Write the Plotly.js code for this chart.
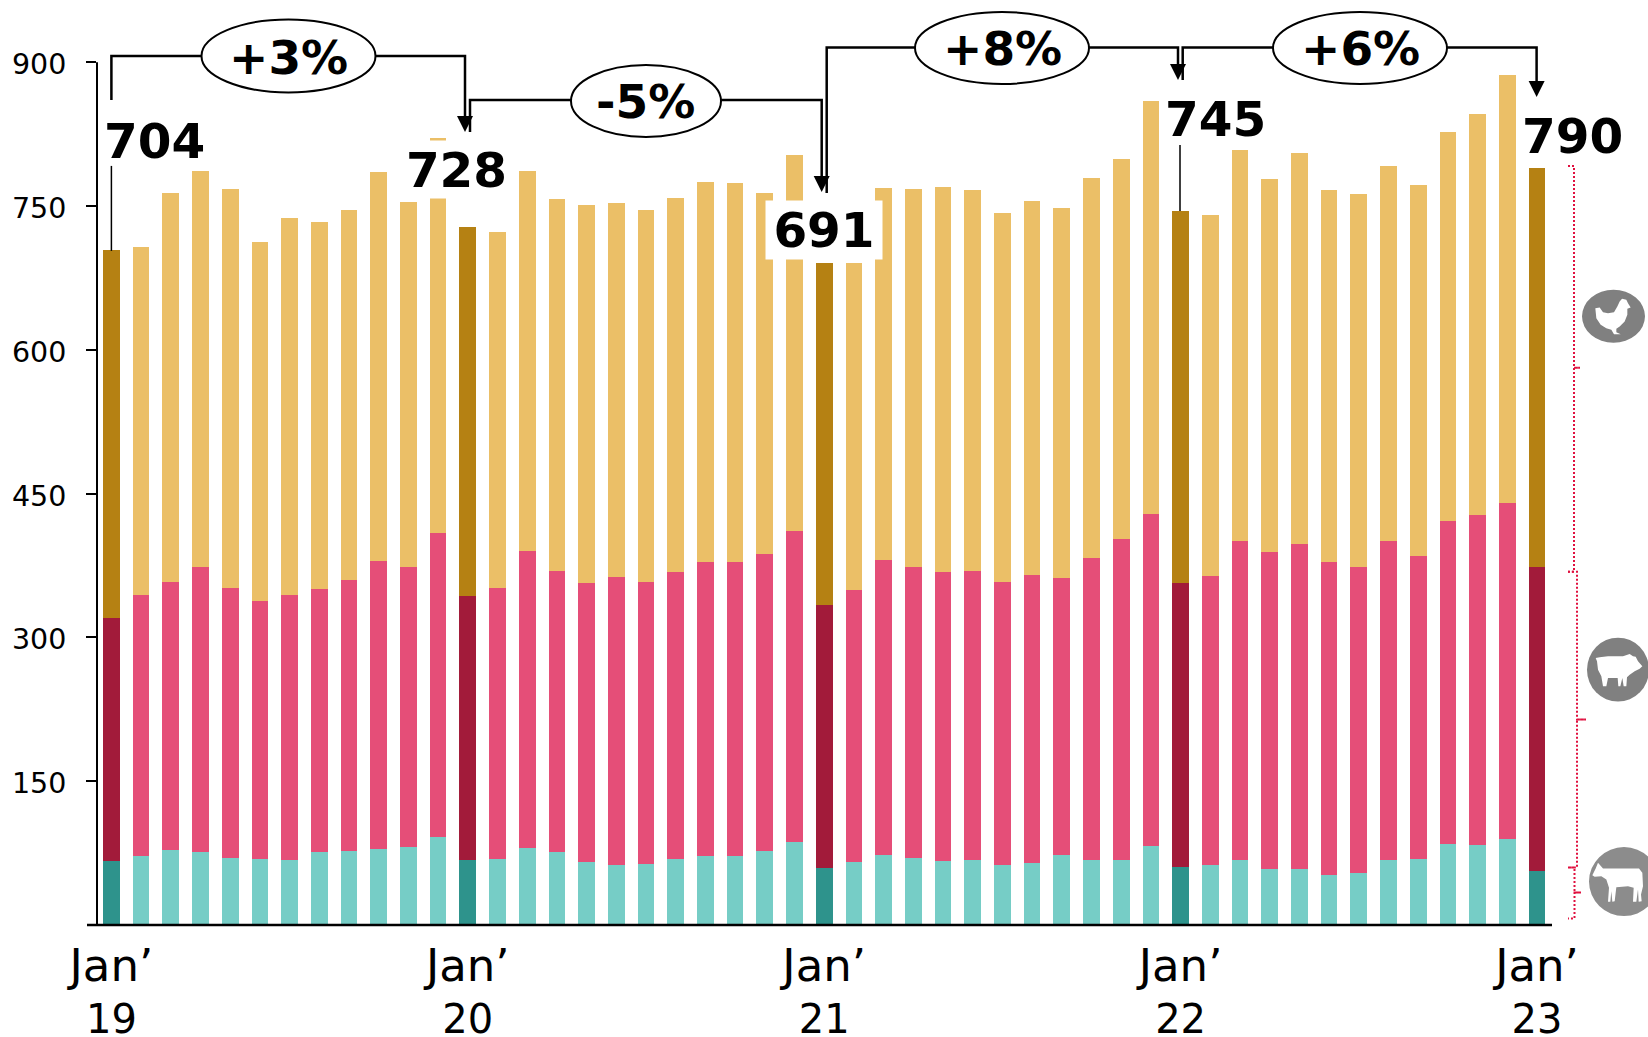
<!DOCTYPE html>
<html>
<head>
<meta charset="utf-8">
<script src="https://cdn.plot.ly/plotly-3.0.1.min.js"></script>
<style>html,body{margin:0;padding:0;background:#fff;overflow:hidden}#c{width:1648px;height:1037px}</style>
</head>
<body>
<div id="c"></div>
<script>
// Months, Jan 2019 .. Jan 2023
const monthIndex = Array.from({length: 49}, (_, i) => i);
const tickPositions = [0, 12, 24, 36, 48];
const janLabel = "<span style=\"font-size:45px\">Jan’</span><br>";
const tickLabels = [janLabel + "19", janLabel + "20", janLabel + "21", janLabel + "22", janLabel + "23"];
const yTicks = [150, 300, 450, 600, 750, 900];

const cattle = [67,72,78,76,70,69,68,76,77,79,81,92,68,69,80,76,66,63,64,69,72,72,77,87,59,66,73,70,67,68,63,65,73,68,68,82,61,63,68,58,58,52,54,68,69,84,83,90,56];
const pork = [253,272,280,298,282,269,276,275,283,301,292,317,275,283,310,293,291,300,294,299,307,307,310,324,275,284,308,303,301,301,295,300,289,315,335,347,296,301,333,331,340,327,319,333,316,337,345,350,318];
const poultry = [384,363,406,413,416,375,394,382,386,406,381,412,385,371,397,388,394,390,388,391,396,395,377,392,357,341,388,395,402,398,385,390,386,396,396,431,388,377,408,389,407,388,390,391,387,406,418,447,416];

const cattleColors = ["#76CDC6", "#2E938C"];
const porkColors = ["#E54E78", "#A21B3A"];
const poultryColors = ["#EBBF67", "#B58113"];

// page geometry of the plot
const W = 1648, H = 1037;
const plotL = 97, plotR = 1648, plotT = 0, plotB = 925.5;
const x0px = 111.4, xStep = 29.7, pxPerUnit = 0.959;
const X = px => (px - x0px) / xStep;
const Y = px => (plotB - px) / pxPerUnit;
const PX = px => (px - plotL) / (plotR - plotL);
const PY = px => (plotB - px) / (plotB - plotT);

const colorsFor = pair => monthIndex.map(i => pair[i % 12 === 0 ? 1 : 0]);
const barTrace = (name, values, pair) => ({
  type: 'bar', name, x: monthIndex, y: values, width: 0.565,
  marker: {color: colorsFor(pair), line: {width: 0}}, hoverinfo: 'skip'
});
const traces = [
  barTrace('Cattle', cattle, cattleColors),
  barTrace('Pork', pork, porkColors),
  barTrace('Poultry', poultry, poultryColors)
];

const shapes = [];
const polyPath = (pts, close) => pts.map((p, i) => (i ? 'L' : 'M') + X(p[0]) + ',' + Y(p[1])).join(' ') + (close ? ' Z' : '');
const line = (pts, width, color, dash) => shapes.push({
  type: 'path', xref: 'x', yref: 'y', layer: 'above', path: polyPath(pts, false),
  line: {color: color || '#000', width: width, dash: dash || 'solid'}, fillcolor: 'rgba(0,0,0,0)'
});
const fill = (pts, color) => shapes.push({
  type: 'path', xref: 'x', yref: 'y', layer: 'above', path: polyPath(pts, true),
  line: {width: 0}, fillcolor: color
});
const ellipse = (cx, cy, rx, ry, fillColor, lineColor, lw) => shapes.push({
  type: 'circle', xref: 'x', yref: 'y', layer: 'above',
  x0: X(cx - rx), x1: X(cx + rx), y0: Y(cy + ry), y1: Y(cy - ry),
  fillcolor: fillColor, line: {color: lineColor, width: lw}
});
const arrowHead = (x, tip) => fill([[x - 8, tip - 16], [x + 8, tip - 16], [x, tip]], '#000');

// axis lines
shapes.push({type: 'line', xref: 'paper', yref: 'paper', x0: PX(87), x1: PX(1552), y0: PY(925.5), y1: PY(925.5), line: {color: '#000', width: 2.5}, layer: 'above'});
shapes.push({type: 'line', xref: 'paper', yref: 'paper', x0: PX(97), x1: PX(97), y0: PY(925.5), y1: PY(plotB - 900 * pxPerUnit), line: {color: '#000', width: 2}, layer: 'above'});

// connectors between the January bars
line([[111.4, 100], [111.4, 56], [465, 56], [465, 120]], 2.5);
arrowHead(465, 132);
line([[470, 132], [470, 100], [821.7, 100], [821.7, 180]], 2.5);
arrowHead(821.7, 192);
line([[826.7, 193], [826.7, 47.5], [1178, 47.5], [1178, 68]], 2.5);
arrowHead(1178, 80);
line([[1182.7, 80], [1182.7, 47.5], [1536.6, 47.5], [1536.6, 85]], 2.5);
arrowHead(1536.6, 97);

// leader lines above bars
line([[111.4, 166], [111.4, 251]], 1.5);
line([[1180, 145], [1180, 211]], 1.5);

// percentage ellipses
ellipse(288.5, 56, 87, 36.5, '#fff', '#000', 2);
ellipse(646, 101, 75, 36, '#fff', '#000', 2);
ellipse(1002, 48, 87, 36, '#fff', '#000', 2);
ellipse(1360, 48, 87, 36, '#fff', '#000', 2);

// dotted brackets
const red = '#E0103F';
const dots = '2px,2px';
line([[1568, 166], [1574, 166], [1574, 368], [1580, 368], [1574, 368], [1574, 572], [1568, 572]], 2, red, dots);
line([[1568, 572], [1577, 572], [1577, 720], [1586, 720], [1577, 720], [1577, 868], [1568, 868]], 2, red, dots);
line([[1568, 868], [1574.5, 868], [1574.5, 893], [1581, 893], [1574.5, 893], [1574.5, 919], [1568, 919]], 2, red, dots);

// animal badges: silhouettes traced at three times their size
const place = (ox, oy, pts) => pts.map(p => [ox + p[0] / 3, oy + p[1] / 3]);
const chicken = [[52,70],[65,68],[75,82],[90,85],[108,82],[118,65],[125,50],[132,42],[145,45],[150,55],[158,68],[148,72],[148,90],[140,110],[125,125],[115,132],[115,142],[128,148],[108,148],[100,135],[85,130],[68,120],[55,100]];
const pig = [[38,70],[50,68],[75,65],[120,65],[140,58],[150,65],[158,66],[165,80],[178,95],[170,102],[155,110],[140,120],[132,128],[130,155],[122,155],[118,130],[112,155],[106,155],[104,130],[75,130],[70,155],[60,155],[55,125],[45,105],[42,80]];
const cow = [[28,92],[38,72],[45,55],[60,72],[90,72],[130,72],[168,72],[178,85],[180,125],[174,150],[176,170],[167,172],[165,135],[160,172],[150,172],[152,130],[135,125],[100,128],[95,170],[88,172],[85,140],[82,172],[75,172],[78,130],[70,105],[55,95],[35,97]];
ellipse(1613.5, 316.5, 31.5, 26.5, '#808080', '#808080', 0);
fill(place(1578, 285, chicken), '#fff');
ellipse(1618, 670, 31, 32, '#808080', '#808080', 0);
fill(place(1583, 635, pig), '#fff');
ellipse(1624, 882, 35, 34.5, '#8c8c8c', '#8c8c8c', 0);
fill(place(1583, 845, cow), '#fff');

const boldFont = size => ({family: '"DejaVu Sans", sans-serif', size, color: '#000'});
const label = (text, cx, cy, size, extra) => Object.assign({
  text: '<b>' + text + '</b>', x: X(cx), y: Y(cy), xref: 'x', yref: 'y',
  xanchor: 'center', yanchor: 'middle', showarrow: false, font: boldFont(size), borderpad: 0
}, extra || {});

const annotations = [
  label('+3%', 288, 58, 47),
  label('-5%', 645.5, 102, 47),
  label('+8%', 1002, 49, 47),
  label('+6%', 1360, 49, 47),
  label('704', 154.5, 141, 48.5),
  label('728', 456, 170, 48.5, {bgcolor: '#fff', width: 105, height: 57}),
  label('691', 824, 230, 48.5, {bgcolor: '#fff', width: 116, height: 58}),
  label('745', 1215.5, 119, 48.5),
  label('790', 1572, 136, 48.5)
];

const layout = {
  width: W, height: H, autosize: false,
  margin: {l: plotL, r: W - plotR, t: plotT, b: H - plotB, pad: 0},
  paper_bgcolor: '#fff', plot_bgcolor: '#fff',
  barmode: 'stack', showlegend: false, hovermode: false,
  font: {family: '"DejaVu Sans", sans-serif', color: '#000'},
  xaxis: {
    range: [X(plotL), X(plotR)], tickmode: 'array', tickvals: tickPositions, ticktext: tickLabels,
    ticks: '', showgrid: false, zeroline: false, showline: false,
    tickangle: 0, tickfont: {size: 40, family: '"DejaVu Sans", sans-serif', color: '#000'}, ticklabelstandoff: 15
  },
  yaxis: {
    range: [0, Y(plotT)], tickmode: 'array', tickvals: yTicks, ticktext: yTicks.map(String),
    ticks: 'outside', ticklen: 10, tickwidth: 2, tickcolor: '#000',
    showgrid: false, zeroline: false, showline: false,
    tickfont: {size: 28.5, family: '"DejaVu Sans", sans-serif', color: '#000'}, ticklabelstandoff: 14, ticklabelshift: 2
  },
  shapes, annotations
};

Plotly.newPlot('c', traces, layout, {displayModeBar: false, staticPlot: true});
</script>
</body>
</html>
